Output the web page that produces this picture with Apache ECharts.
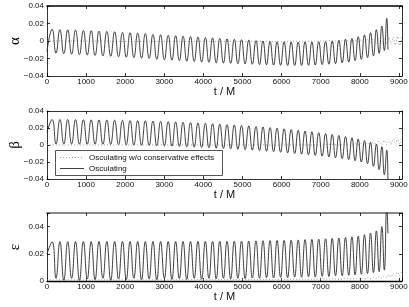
<!DOCTYPE html>
<html>
<head>
<meta charset="utf-8">
<script src="https://cdn.jsdelivr.net/npm/echarts@6/dist/echarts.min.js"></script>
<style>html,body{margin:0;padding:0;background:#fff}#c{width:409px;height:307px}</style>
</head>
<body>
<div id="c"></div>
<script>
// ---- data ----
const xTicks = [0, 1000, 2000, 3000, 4000, 5000, 6000, 7000, 8000, 9000];
const seriesNames = ['Osculating w/o conservative effects', 'Osculating'];
const panelLabels = ['α', 'β', 'ε'];

// times of the maxima / minima of the osculating curves
const tPeak = [130, 330, 530, 730, 930, 1130, 1330, 1530, 1730, 1930, 2125, 2320, 2515, 2710, 2905, 3100, 3290, 3480, 3670, 3860, 4050, 4235, 4420, 4605, 4790, 4975, 5160, 5345, 5525, 5705, 5885, 6065, 6245, 6425, 6600, 6775, 6950, 7125, 7295, 7465, 7635, 7800, 7960, 8120, 8275, 8425, 8565, 8690];
const tTrough = [230, 430, 630, 830, 1030, 1230, 1430, 1630, 1830, 2028, 2222, 2418, 2612, 2808, 3002, 3195, 3385, 3575, 3765, 3955, 4142, 4328, 4512, 4698, 4882, 5068, 5252, 5435, 5615, 5795, 5975, 6155, 6335, 6512, 6688, 6862, 7038, 7210, 7380, 7550, 7718, 7880, 8040, 8198, 8350, 8495, 8628];
const tStart = 0, tEnd = 8720;

const alphaStart = -0.012, alphaEnd = -0.010;
const alphaPeak = [0.0135, 0.013, 0.0128, 0.0125, 0.012, 0.0118, 0.0112, 0.011, 0.0105, 0.0098, 0.0095, 0.009, 0.0085, 0.0075, 0.007, 0.0065, 0.006, 0.0055, 0.005, 0.0045, 0.004, 0.0035, 0.003, 0.0025, 0.002, 0.0015, 0.001, 0.0005, 0.0, -0.0005, -0.001, -0.001, -0.0012, -0.0012, -0.001, -0.001, -0.0008, -0.0005, 0.0, 0.0008, 0.002, 0.003, 0.005, 0.007, 0.0095, 0.013, 0.017, 0.026];
const alphaTrough = [-0.014, -0.0145, -0.015, -0.0155, -0.016, -0.0165, -0.017, -0.0175, -0.018, -0.0185, -0.019, -0.0195, -0.020, -0.021, -0.0215, -0.022, -0.0225, -0.023, -0.0235, -0.024, -0.0245, -0.025, -0.0252, -0.0255, -0.026, -0.0262, -0.0265, -0.027, -0.0272, -0.0275, -0.0278, -0.028, -0.028, -0.028, -0.0278, -0.0275, -0.027, -0.0265, -0.026, -0.025, -0.024, -0.0225, -0.021, -0.019, -0.017, -0.014, -0.011];

const betaStart = 0.015, betaEnd = -0.045;
const betaPeak = [0.030, 0.030, 0.030, 0.0298, 0.0297, 0.0296, 0.0295, 0.0293, 0.0292, 0.029, 0.0288, 0.0286, 0.0284, 0.0281, 0.0278, 0.0275, 0.0271, 0.0267, 0.0263, 0.0259, 0.0255, 0.025, 0.0245, 0.024, 0.0235, 0.023, 0.0224, 0.0218, 0.0212, 0.0205, 0.0198, 0.019, 0.0182, 0.0173, 0.0164, 0.0155, 0.0145, 0.0135, 0.0125, 0.0113, 0.010, 0.0085, 0.007, 0.0052, 0.0033, 0.001, -0.002, -0.006];
const betaTrough = [0.0012, 0.0012, 0.0012, 0.0011, 0.001, 0.001, 0.0008, 0.0007, 0.0005, 0.0003, 0.0, -0.0002, -0.0005, -0.0008, -0.001, -0.0013, -0.0017, -0.002, -0.0024, -0.0028, -0.0032, -0.0036, -0.004, -0.0045, -0.005, -0.0055, -0.006, -0.0066, -0.0072, -0.0078, -0.0085, -0.0092, -0.010, -0.0107, -0.0115, -0.0123, -0.013, -0.014, -0.015, -0.016, -0.0172, -0.0185, -0.020, -0.022, -0.025, -0.029, -0.035];

const epsStart = 0.020, epsEnd = 0.035;
const epsPeak = [0.0288, 0.0289, 0.0289, 0.029, 0.029, 0.029, 0.029, 0.029, 0.029, 0.029, 0.029, 0.029, 0.029, 0.029, 0.029, 0.029, 0.029, 0.029, 0.029, 0.0291, 0.0291, 0.0291, 0.0292, 0.0292, 0.0293, 0.0293, 0.0294, 0.0295, 0.0296, 0.0297, 0.0298, 0.0299, 0.030, 0.0302, 0.0304, 0.0306, 0.0308, 0.031, 0.0313, 0.0316, 0.032, 0.0325, 0.033, 0.034, 0.0352, 0.0368, 0.040, 0.056];
const epsTrough = [0.002, 0.0005, 0.002, 0.0005, 0.0015, 0.001, 0.002, 0.0005, 0.0015, 0.001, 0.002, 0.001, 0.0015, 0.001, 0.002, 0.0012, 0.0018, 0.0012, 0.002, 0.0013, 0.002, 0.0015, 0.002, 0.0015, 0.002, 0.0018, 0.0022, 0.002, 0.0025, 0.0022, 0.0027, 0.0025, 0.003, 0.0028, 0.0032, 0.003, 0.0035, 0.0033, 0.0038, 0.0038, 0.0042, 0.0045, 0.005, 0.0055, 0.0062, 0.007, 0.008];

// dotted curves (without conservative effects)
const tDot = [0, 1000, 2000, 3000, 4000, 5000, 6000, 7000, 7300, 7465, 7635, 7800, 7880, 7960, 8040, 8120, 8198, 8275, 8350, 8425, 8495, 8565, 8628, 8690, 8745, 8800, 8855, 8910, 8965, 9020, 9075];
const alphaDot = [0, 0, -0.0005, -0.0005, -0.0005, -0.0005, -0.0005, 0, 0.0005, -0.0005, 0.001, -0.001, 0.001, -0.001, 0.0015, -0.0015, 0.002, -0.002, 0.0025, -0.0025, 0.003, -0.003, 0.0035, -0.0035, 0.004, -0.004, 0.0045, -0.0045, 0.005, -0.005, 0.005];
const betaDot = [0, 0, 0, 0, 0, 0, 0, 0.0002, 0.0008, -0.0002, 0.0012, 0.0, 0.0018, 0.0, 0.0022, 0.0, 0.0028, 0.0, 0.0035, 0.0002, 0.0045, 0.0003, 0.0055, 0.0005, 0.0065, 0.0008, 0.0075, 0.001, 0.0085, 0.0012, 0.009];
const epsDot = [0.0008, 0.0008, 0.0008, 0.0009, 0.001, 0.001, 0.0012, 0.0014, 0.0015, 0.0012, 0.0018, 0.0014, 0.002, 0.0015, 0.0022, 0.0016, 0.0025, 0.0018, 0.0028, 0.002, 0.0032, 0.0022, 0.0038, 0.0025, 0.0045, 0.003, 0.0055, 0.0035, 0.0065, 0.004, 0.0075];

// ---- build ----
function extrema(start, peaks, troughs, end) {
  const d = [[tStart, start]];
  for (let i = 0; i < tPeak.length; i++) {
    d.push([tPeak[i], peaks[i]]);
    if (i < tTrough.length) d.push([tTrough[i], troughs[i]]);
  }
  d.push([tEnd, end]);
  return d;
}
function pairs(ts, vs) { return ts.map((t, i) => [t, vs[i]]); }

const solid = [
  extrema(alphaStart, alphaPeak, alphaTrough, alphaEnd),
  extrema(betaStart, betaPeak, betaTrough, betaEnd),
  extrema(epsStart, epsPeak, epsTrough, epsEnd)
];
const dotted = [pairs(tDot, alphaDot), pairs(tDot, betaDot), pairs(tDot, epsDot)];

const grids = [
  {left: 47, right: 7, top: 6, height: 70, outerBoundsMode: 'none', containLabel: false},
  {left: 47, right: 7, top: 111, height: 68, outerBoundsMode: 'none', containLabel: false},
  {left: 47, right: 7, top: 213, height: 68, outerBoundsMode: 'none', containLabel: false}
];
const yRanges = [[-0.04, 0.04], [-0.04, 0.04], [0, 0.05]];
const font = 'Liberation Sans, Arial, Helvetica, sans-serif';

function yFmt(v) {
  const k = v / 0.02;
  if (Math.abs(k - Math.round(k)) > 1e-6) return '';
  if (Math.abs(v) < 1e-9) return '0';
  return (v < 0 ? '\u2212' : '') + Math.abs(v).toFixed(2);
}
function xFmt(v) { return (v % 1000 === 0) ? String(v) : ''; }

const xAxis = [], yAxis = [], series = [];
grids.forEach((g, i) => {
  const tick = {show: true, inside: true, length: 3, lineStyle: {color: '#000', width: 0.8}};
  const topW = i === 0 ? 1.5 : (i === 2 ? 2 : 0.8);
  const topC = i === 2 ? '#888' : '#000';
  xAxis.push({
    type: 'value', gridIndex: i, min: 0, max: 9080, interval: 1000, position: 'bottom',
    axisLine: {show: true, onZero: false, lineStyle: {color: '#000', width: i === 2 ? 1.4 : 0.8}},
    axisTick: tick, splitLine: {show: false},
    axisLabel: {formatter: xFmt, fontSize: 8, color: '#111', fontFamily: font, margin: 2, showMaxLabel: true},
    name: 't / M', nameLocation: 'middle', nameGap: 10, nameMoveOverlap: false,
    nameTextStyle: {fontSize: 11, color: '#111', fontFamily: font, verticalAlign: 'top'}
  });
  xAxis.push({
    type: 'value', gridIndex: i, min: 0, max: 9080, interval: 1000, position: 'top',
    axisLine: {show: true, onZero: false, lineStyle: {color: topC, width: topW}},
    axisTick: tick, splitLine: {show: false}, axisLabel: {show: false}
  });
  yAxis.push({
    type: 'value', gridIndex: i, min: yRanges[i][0], max: yRanges[i][1], interval: 0.02, position: 'left',
    axisLine: {show: true, onZero: false, lineStyle: {color: '#000', width: 0.8}},
    axisTick: tick, splitLine: {show: false},
    axisLabel: {formatter: yFmt, fontSize: 8, color: '#111', fontFamily: font, margin: 3},
    name: panelLabels[i], nameLocation: 'middle', nameGap: 24, nameMoveOverlap: false,
    nameTextStyle: {fontSize: 15, color: '#000', fontFamily: 'Liberation Serif, Times New Roman, serif'}
  });
  yAxis.push({
    type: 'value', gridIndex: i, min: yRanges[i][0], max: yRanges[i][1], interval: 0.02, position: 'right',
    axisLine: {show: true, onZero: false, lineStyle: {color: '#000', width: 0.8}},
    axisTick: tick, splitLine: {show: false}, axisLabel: {show: false}
  });
  series.push({
    name: seriesNames[0], type: 'line', xAxisIndex: 2 * i, yAxisIndex: 2 * i,
    data: dotted[i], showSymbol: false, symbol: 'none', smooth: 0.4, clip: true,
    lineStyle: {color: '#888', width: 0.8, type: [1, 2]}, animation: false, z: 2
  });
  series.push({
    name: seriesNames[1], type: 'line', xAxisIndex: 2 * i, yAxisIndex: 2 * i,
    data: solid[i], showSymbol: false, symbol: 'none', smooth: 0.5, clip: true,
    lineStyle: {color: '#2a2a2a', width: 0.9}, animation: false, z: 3
  });
});

const chart = echarts.init(document.getElementById('c'), null, {renderer: 'canvas'});
chart.setOption({
  backgroundColor: '#fff',
  animation: false,
  grid: grids,
  xAxis: xAxis,
  yAxis: yAxis,
  series: series,
  graphic: [
    {type: 'rect', z: 100, shape: {x: 55.5, y: 150.5, width: 167, height: 25},
     style: {fill: '#fff', stroke: '#555', lineWidth: 1}},
    {type: 'line', z: 101, shape: {x1: 60, y1: 157.5, x2: 84, y2: 157.5},
     style: {stroke: '#888', lineWidth: 0.8, lineDash: [1, 2]}},
    {type: 'text', z: 101, x: 89, y: 158,
     style: {text: seriesNames[0], fontSize: 8, fill: '#111', fontFamily: font, verticalAlign: 'middle'}},
    {type: 'line', z: 101, shape: {x1: 60, y1: 168.5, x2: 84, y2: 168.5},
     style: {stroke: '#2a2a2a', lineWidth: 0.9}},
    {type: 'text', z: 101, x: 89, y: 169,
     style: {text: seriesNames[1], fontSize: 8, fill: '#111', fontFamily: font, verticalAlign: 'middle'}}
  ]
});
</script>
</body>
</html>
